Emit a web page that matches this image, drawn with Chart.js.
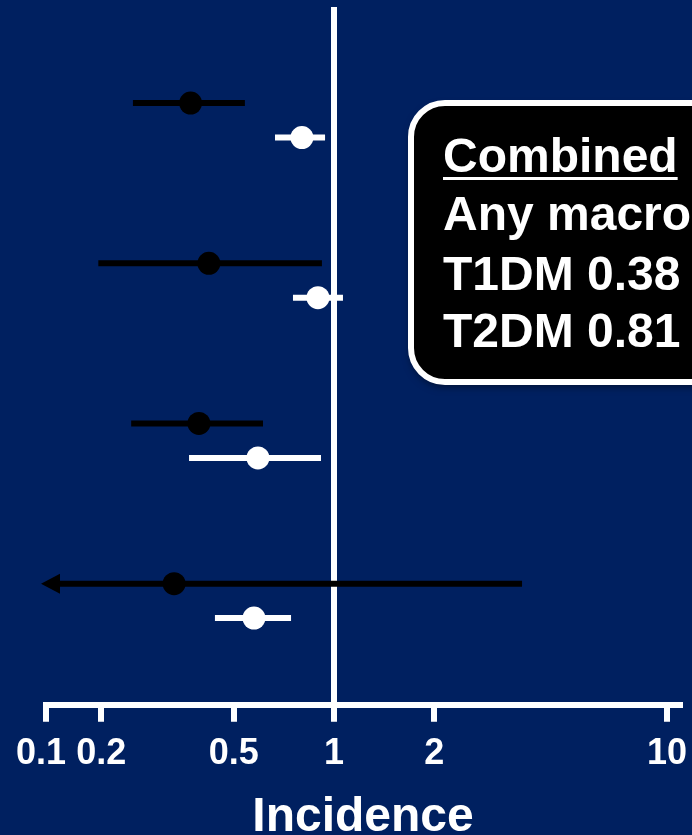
<!DOCTYPE html>
<html>
<head>
<meta charset="utf-8">
<script src="https://cdn.jsdelivr.net/npm/chart.js@4.4.1/dist/chart.umd.min.js"></script>
<style>
  html, body { margin: 0; padding: 0; background: #002060; overflow: hidden; }
  #wrap { width: 692px; height: 835px; position: relative; }
</style>
</head>
<body>
<div id="wrap"><canvas id="chart"></canvas></div>
<script>
// Incidence ratio estimates with 95% confidence limits, four comparisons (top to bottom)
const t1dmEst  = [0.371, 0.421, 0.393, 0.331];
const t1dmLow  = [0.249, 0.196, 0.246, 0.08];   // last interval runs past the axis start (arrow)
const t1dmHigh = [0.540, 0.920, 0.612, 3.67];

const t2dmEst  = [0.801, 0.895, 0.591, 0.575];
const t2dmLow  = [0.665, 0.753, 0.367, 0.439];
const t2dmHigh = [0.940, 1.064, 0.914, 0.743];

// Axis ticks (first tick sits at the broken start of the axis)
const tickValues = [0.1, 0.2, 0.5, 1, 2, 10];
const tickLabels = ['0.1', '0.2', '0.5', '1', '2', '10'];
const refValue = 1;
const axisTitle = 'Incidence';

// Summary call-out
const boxTitle = 'Combined';
const boxLines = ['Any macro', 'T1DM 0.38', 'T2DM 0.81'];

const FONT = '"Liberation Sans", Arial, Helvetica, sans-serif';
const BG = '#002060';
const AXIS_START = 0.1365;
const AXIS_END = 10.94;

const rowOffset = { t1dm: 0.6, t2dm: 0.815 };

function points(est, off) {
  return est.map((v, i) => ({ x: v, y: i + off }));
}

const background = {
  id: 'background',
  beforeDraw(chart) {
    const ctx = chart.ctx;
    ctx.save();
    ctx.fillStyle = BG;
    ctx.fillRect(0, 0, chart.width, chart.height);
    ctx.restore();
  }
};

// Reference line at 1 and the confidence-interval bars
const forest = {
  id: 'forest',
  beforeDatasetsDraw(chart) {
    const ctx = chart.ctx;
    const xs = chart.scales.x;
    const area = chart.chartArea;
    ctx.save();
    const rx = xs.getPixelForValue(refValue);
    ctx.strokeStyle = '#ffffff';
    ctx.lineWidth = 6;
    ctx.beginPath();
    ctx.moveTo(rx, area.top);
    ctx.lineTo(rx, area.bottom);
    ctx.stroke();

    chart.data.datasets.forEach((ds, di) => {
      const meta = chart.getDatasetMeta(di);
      ctx.strokeStyle = ds.barColor;
      ctx.fillStyle = ds.barColor;
      ctx.lineWidth = 6;
      meta.data.forEach((pt, i) => {
        const y = pt.y;
        const lowClipped = ds.low[i] < xs.min;
        const x1 = lowClipped ? xs.left + 14 : xs.getPixelForValue(ds.low[i]);
        const x2 = xs.getPixelForValue(ds.high[i]);
        ctx.beginPath();
        ctx.moveTo(x1, y);
        ctx.lineTo(x2, y);
        ctx.stroke();
        if (lowClipped) {
          ctx.beginPath();
          ctx.moveTo(xs.left - 5, y);
          ctx.lineTo(xs.left + 14, y - 10);
          ctx.lineTo(xs.left + 14, y + 10);
          ctx.closePath();
          ctx.fill();
        }
      });
    });
    ctx.restore();
  }
};

const callout = {
  id: 'callout',
  afterDraw(chart) {
    const ctx = chart.ctx;
    ctx.save();
    const x = 411, y = 103, w = 420, h = 279, r = 34;
    ctx.beginPath();
    ctx.roundRect(x, y, w, h, r);
    ctx.shadowColor = 'rgba(0,0,0,0.55)';
    ctx.shadowBlur = 8;
    ctx.shadowOffsetY = 4;
    ctx.fillStyle = '#000000';
    ctx.fill();
    ctx.shadowColor = 'transparent';
    ctx.lineWidth = 6;
    ctx.strokeStyle = '#ffffff';
    ctx.stroke();

    ctx.fillStyle = '#ffffff';
    ctx.font = 'bold 48px ' + FONT;
    ctx.textBaseline = 'alphabetic';
    ctx.textAlign = 'left';
    const tx = 443;
    ctx.fillText(boxTitle, tx, 172);
    const tw = ctx.measureText(boxTitle).width;
    ctx.fillRect(tx, 177, tw, 3);
    const baselines = [230, 290, 347];
    boxLines.forEach((s, i) => ctx.fillText(s, tx, baselines[i]));
    ctx.restore();
  }
};

Chart.defaults.font.family = FONT;

new Chart(document.getElementById('chart'), {
  type: 'scatter',
  data: {
    datasets: [
      {
        label: 'T1DM',
        data: points(t1dmEst, rowOffset.t1dm),
        low: t1dmLow,
        high: t1dmHigh,
        barColor: '#000000',
        pointRadius: 11.5,
        pointHoverRadius: 11.5,
        pointBackgroundColor: '#000000',
        pointBorderWidth: 0
      },
      {
        label: 'T2DM',
        data: points(t2dmEst, rowOffset.t2dm),
        low: t2dmLow,
        high: t2dmHigh,
        barColor: '#ffffff',
        pointRadius: 11.5,
        pointHoverRadius: 11.5,
        pointBackgroundColor: '#ffffff',
        pointBorderWidth: 0
      }
    ]
  },
  options: {
    responsive: true,
    maintainAspectRatio: false,
    animation: false,
    events: [],
    layout: { autoPadding: false, padding: { top: 7, left: 46, right: 12, bottom: 0 } },
    plugins: {
      legend: { display: false },
      tooltip: { enabled: false },
      title: { display: false }
    },
    scales: {
      x: {
        type: 'logarithmic',
        min: AXIS_START,
        max: AXIS_END,
        bounds: 'data',
        afterBuildTicks(scale) {
          scale.ticks = tickValues.map(v => ({ value: Math.max(v, scale.min) }));
        },
        afterFit(scale) {
          scale.paddingLeft = 0;
          scale.paddingRight = 0;
        },
        ticks: {
          autoSkip: false,
          maxRotation: 0,
          color: '#ffffff',
          padding: 11,
          font: { size: 36, weight: 'bold', lineHeight: 1.2 },
          // small trailing gap keeps the broken-axis label clear of its neighbour
          callback: (v, i) => (i === 0 ? tickLabels[i] + ' ' : tickLabels[i])
        },
        grid: {
          display: true,
          drawOnChartArea: false,
          drawTicks: true,
          tickLength: 17,
          color: '#ffffff',
          lineWidth: 6
        },
        border: { display: true, color: '#ffffff', width: 6 },
        title: {
          display: true,
          text: axisTitle,
          color: '#ffffff',
          font: { size: 48, weight: 'bold', lineHeight: 0.73 },
          padding: { top: 13, bottom: 0 }
        }
      },
      y: {
        type: 'linear',
        display: false,
        reverse: true,
        min: 0,
        max: 4.356
      }
    }
  },
  plugins: [background, forest, callout]
});
</script>
</body>
</html>
